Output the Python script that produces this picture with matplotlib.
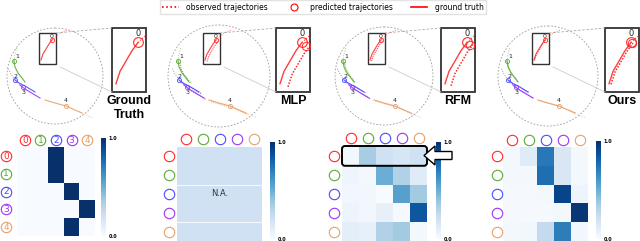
import numpy as np
import matplotlib.pyplot as plt
from matplotlib.patches import Circle, Rectangle, FancyBboxPatch, FancyArrow
from matplotlib.lines import Line2D

W, H = 640, 241

agent_colors = ['#ff2a2a', '#5aaa35', '#4b4bff', '#9b35f5', '#e8a06a']
panel_titles = ['Ground\nTruth', 'MLP', 'RFM', 'Ours']

# trajectory points relative to the circle centre (pixels)
gt_x = [[-14, -12, -9, -6, -3], [-41, -40, -37, -33, -30], [-40, -36, -30, -25, -20],
        [-35, -30, -25, -20, -15], [-10, 0, 11, 20, 27]]
gt_y = [[-16, -22, -27, -32, -36], [-15, -9, -3, 2, 6], [4, 7, 10, 13, 16],
        [9, 13, 16, 19, 22], [24, 27, 30, 34, 37]]
obs_x = [[-3, 5, 12], [-41, -40, -38], [-40, -44, -47], [-35, -37, -39], [27, 33, 38]]
obs_y = [[-36, -43, -46], [-15, -22, -29], [4, -2, -8], [9, 7, 5], [37, 40, 42]]
mark_x = [-3, -41, -40, -32, 11]
mark_y = [-36, -15, 4, 11, 30]
lab_x = [-3, -38, -39, -31, 11]
lab_y = [-40, -19, 0, 16, 25]

# spread of predicted trajectories per panel
pred_dx = [0, 2.0, 1.5, 0.5]
pred_dy = [0, 1.5, 1.0, 0.3]

gt_mat = [[0, 0, 1, 0, 0],
          [0, 0, 1, 0, 0],
          [0, 0, 0, 1, 0],
          [0, 0, 0, 0, 1],
          [0, 0, 0, 1, 0]]
mlp_mat = [[0.2, 0.2, 0.2, 0.2, 0.2],
           [0.2, 0.2, 0.2, 0.2, 0.2],
           [0.2, 0.2, 0.2, 0.2, 0.2],
           [0.2, 0.2, 0.2, 0.2, 0.2],
           [0.2, 0.2, 0.2, 0.2, 0.2]]
rfm_mat = [[0.03, 0.35, 0.2, 0.16, 0.2],
           [0.04, 0.02, 0.5, 0.32, 0.12],
           [0.03, 0.03, 0.0, 0.56, 0.36],
           [0.05, 0.03, 0.08, 0.01, 0.85],
           [0.1, 0.08, 0.32, 0.36, 0.02]]
ours_mat = [[0.02, 0.12, 0.72, 0.15, 0.02],
            [0.02, 0.02, 0.76, 0.15, 0.02],
            [0.01, 0.01, 0.02, 0.92, 0.05],
            [0.01, 0.01, 0.01, 0.02, 0.97],
            [0.02, 0.03, 0.25, 0.7, 0.03]]
mats = [gt_mat, mlp_mat, rfm_mat, ours_mat]

# layout in pixels
centres = [55, 219, 384, 548]
cy = 76
radii = [48, 51, 49, 50]
hm_rects = [(17, 147, 95, 236), (177, 147, 262, 241), (342, 147, 427, 241), (503, 147, 588, 241)]
cb_rects = [(101, 138, 106, 236), (270, 142, 275, 239), (436, 142, 441, 239), (596, 141, 601, 239)]
header_y = [140, 139, 138, 140]
row_dx = [-11, -8, -8, -6]


def px(r):
    x0, y0, x1, y1 = r
    return [x0 / W, 1 - y1 / H, (x1 - x0) / W, (y1 - y0) / H]


fig = plt.figure(figsize=(6.4, 2.41), dpi=100)

# heatmaps
for k in range(4):
    ax = fig.add_axes(px(hm_rects[k]))
    im = ax.imshow(np.array(mats[k]), cmap='Blues', vmin=0, vmax=1, aspect='auto',
                   interpolation='nearest')
    ax.set_xticks([])
    ax.set_yticks([])
    for s in ax.spines.values():
        s.set_visible(False)
    cax = fig.add_axes(px(cb_rects[k]))
    cb = fig.colorbar(im, cax=cax, ticks=[0, 1])
    cb.outline.set_visible(False)
    cb.ax.set_yticklabels(['0.0', '1.0'], fontsize=3.5, fontweight='bold')
    cb.ax.tick_params(length=0, pad=2)

# overlay in pixel coordinates
ov = fig.add_axes([0, 0, 1, 1])
ov.set_xlim(0, W)
ov.set_ylim(H, 0)
ov.axis('off')

for k in range(4):
    cx = centres[k]
    ov.add_patch(Circle((cx, cy), radii[k], fill=False, ec='#9a9a9a', lw=0.6,
                        ls=(0, (2, 2))))
    rx0, ry0, rw, rh = cx - 16, 33, 17, 31
    ix0, iy0, iw, ih = cx + 57, 28, 34, 64
    sx, sy = iw / rw, ih / rh

    # connector lines
    ov.plot([rx0 + rw, ix0], [ry0, iy0], color='#aaaaaa', lw=0.6, ls=(0, (3, 2)))
    ov.plot([rx0 + rw + 4, ix0], [ry0 + rh + 3, iy0 + ih], color='#cccccc', lw=0.6)

    clip = Rectangle((ix0, iy0), iw, ih, transform=ov.transData)
    for a in range(5):
        c = agent_colors[a]
        gx = cx + np.array(gt_x[a])
        gy = cy + np.array(gt_y[a])
        oxs = cx + np.array(obs_x[a])
        oys = cy + np.array(obs_y[a])
        ov.plot(gx, gy, color=c, lw=0.8, alpha=0.9)
        ov.plot(oxs, oys, color=c, lw=0.7, ls=(0, (1, 1.5)), alpha=0.6)
        if k > 0:
            ov.plot(gx + pred_dx[k], gy + pred_dy[k], color=c, lw=0.8, ls=(0, (1, 1)),
                    alpha=0.85)
        ov.plot(cx + mark_x[a], cy + mark_y[a], 'o', mfc='none', mec=c, ms=3, mew=0.6)
        ov.text(cx + lab_x[a], cy + lab_y[a], str(a), fontsize=4.5, ha='center',
                va='center', color='#222222')

        # zoomed inset
        for xs, ys, st, lw in [(gx, gy, '-', 1.0), (oxs, oys, (0, (1, 1.5)), 0.8)]:
            ln, = ov.plot(ix0 + (xs - rx0) * sx, iy0 + (ys - ry0) * sy, color=c, lw=lw,
                          ls=st, alpha=0.9)
            ln.set_clip_path(clip)
        if k > 0:
            ln, = ov.plot(ix0 + (gx + pred_dx[k] * 2 - rx0) * sx,
                          iy0 + (gy + pred_dy[k] - ry0) * sy, color=c, lw=1.1,
                          ls=(0, (1, 1)))
            ln.set_clip_path(clip)
            ln, = ov.plot(ix0 + (cx + mark_x[a] + pred_dx[k] - rx0) * sx,
                          iy0 + (cy + mark_y[a] + pred_dy[k] - ry0) * sy, 'o', mfc='none',
                          mec=c, ms=6, mew=0.7)
            ln.set_clip_path(clip)
        ln, = ov.plot(ix0 + (cx + mark_x[a] - rx0) * sx, iy0 + (cy + mark_y[a] - ry0) * sy,
                      'o', mfc='none', mec=c, ms=7, mew=0.8)
        ln.set_clip_path(clip)
    ov.text(ix0 + (cx + mark_x[0] - rx0) * sx, iy0 + 5, '0', fontsize=6, ha='center',
            va='center', color='#222222')

    ov.add_patch(Rectangle((rx0, ry0), rw, rh, fill=False, ec='#333333', lw=1.0))
    ov.add_patch(Rectangle((ix0, iy0), iw, ih, fill=False, ec='#333333', lw=1.3))
    ov.text(ix0 + iw / 2, 95, panel_titles[k], fontsize=9, fontweight='bold',
            family='Liberation Sans', ha='center', va='top', linespacing=1.2)

    # circled agent markers around the heatmap
    x0, y0, x1, y1 = hm_rects[k]
    cw = (x1 - x0) / 5
    ch = (y1 - y0) / 5
    for a in range(5):
        c = agent_colors[a]
        hx = x0 + (a + 0.5) * cw
        ry = y0 + (a + 0.5) * ch
        ov.plot(hx, header_y[k], 'o', mfc='white', mec=c, ms=7.5, mew=0.8)
        ov.plot(x0 + row_dx[k], ry, 'o', mfc='white', mec=c, ms=7.5, mew=0.8)
        if k == 0:
            ov.text(hx, header_y[k] + 0.3, str(a), fontsize=6.5, color=c, ha='center',
                    va='center')
            ov.text(x0 + row_dx[k], ry + 0.3, str(a), fontsize=6.5, color=c, ha='center',
                    va='center')

# MLP has no relation matrix
x0, y0, x1, y1 = hm_rects[1]
for yy in [y0 + 2 * (y1 - y0) / 5, y0 + 4 * (y1 - y0) / 5]:
    ov.plot([x0, x1], [yy, yy], color='white', lw=0.6)
ov.text((x0 + x1) / 2, (y0 + y1) / 2, 'N.A.', fontsize=6, ha='center', va='center',
        color='#333333')

# RFM highlight
x0, y0, x1, y1 = hm_rects[2]
ov.add_patch(FancyBboxPatch((x0, y0 - 1), x1 - x0, (y1 - y0) / 5 + 1,
                            boxstyle='round,pad=0,rounding_size=3', fill=False,
                            ec='black', lw=1.4))
ov.add_patch(FancyArrow(452, 155.5, -28, 0, width=8, head_width=19, head_length=11,
                        length_includes_head=True, fc='white', ec='black', lw=1.0))

handles = [Line2D([], [], color='red', ls=(0, (1, 1.5)), lw=1.2),
           Line2D([], [], color='red', ls='none', marker='o', mfc='none', ms=5, mew=0.8),
           Line2D([], [], color='red', lw=1.2)]
fig.legend(handles, ['observed trajectories', 'predicted trajectories', 'ground truth'],
           ncol=3, loc='center', bbox_to_anchor=(323 / W, 1 - 7 / H), fontsize=5.5,
           frameon=True, fancybox=False, edgecolor='#dddddd', handlelength=2.2,
           columnspacing=2.3, borderpad=0.3, handletextpad=1.0)

fig.savefig('out.png', dpi=100)
